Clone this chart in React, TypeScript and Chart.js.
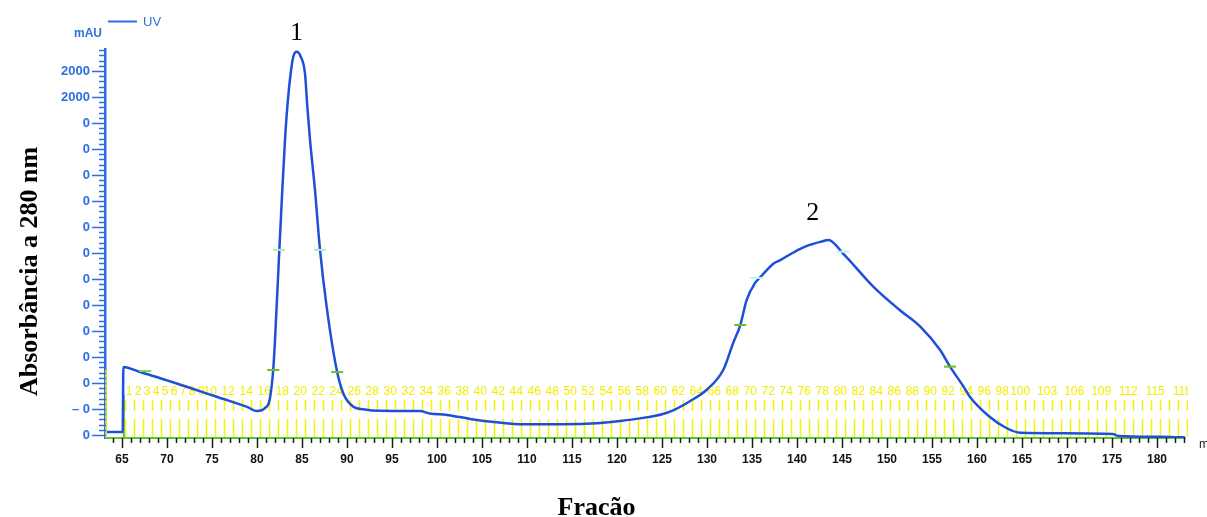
import React, { useEffect, useRef } from "react";
import { Chart, registerables } from "chart.js";

Chart.register(...registerables);

// UV trace (elution volume in ml, absorbance in axis-step units)
const uvVolumeMl = [
  63.11, 65.08, 65.15, 67.0, 68.1, 70.0, 72.6, 75.6, 78.9, 80.0, 80.9, 81.4, 81.8, 82.0,
  82.48, 82.81, 83.11, 83.37, 83.74, 84.03, 84.41, 84.86, 85.33, 85.59, 85.89, 86.44,
  87.0, 87.74, 88.86, 89.59, 90.7, 91.81, 93.67, 98.1, 99.2, 101.08, 103.67, 106.63,
  109.59, 114.03, 117.74, 120.33, 122.56, 125.0, 126.3, 128.1, 130.0, 131.8, 132.9,
  133.7, 134.4, 135.3, 136.0, 137.4, 138.1, 140.3, 141.4, 142.6, 143.5, 145.1, 148.5,
  151.4, 153.7, 155.9, 157.0, 158.5, 159.2, 161.4, 163.3, 164.8, 175.1, 175.7, 180.0, 183.1,
];
const uvAbsorbance = [
  0.12, 0.12, 2.62, 2.42, 2.31, 2.1, 1.81, 1.46, 1.08, 0.92, 1.04, 1.35, 2.5, 3.65,
  7.12, 9.42, 11.35, 12.63, 13.91, 14.55, 14.74, 14.55, 13.91, 12.63, 11.35, 9.42,
  7.12, 4.93, 2.5, 1.6, 1.09, 0.99, 0.93, 0.92, 0.83, 0.77, 0.62, 0.49,
  0.41, 0.41, 0.45, 0.54, 0.64, 0.8, 0.96, 1.3, 1.75, 2.5, 3.53,
  4.23, 5.19, 5.83, 6.1, 6.6, 6.72, 7.15, 7.31, 7.43, 7.5, 6.99, 5.7,
  4.81, 4.17, 3.27, 2.63, 1.86, 1.47, 0.7, 0.26, 0.09, 0.04, -0.04, -0.07, -0.09,
];

// small peak-width marks on the trace
const markVolumeMl = [67.6, 81.8, 88.9, 82.45, 87.0, 133.7, 157.0, 135.5, 145.1];
const markAbsorbance = [2.46, 2.5, 2.42, 7.12, 7.12, 4.23, 2.63, 6.04, 7.05];
const markColors = ["#7fd84a", "#6cc024", "#6cc024", "#a8f0b8", "#a8f0b8", "#6cc024", "#6cc024", "#b8f4ee", "#b8f4ee"];

const xTickValues = [65, 70, 75, 80, 85, 90, 95, 100, 105, 110, 115, 120, 125, 130, 135, 140, 145, 150, 155, 160, 165, 170, 175, 180];
const yTickValues = [0, 1, 2, 3, 4, 5, 6, 7, 8, 9, 10, 11, 12, 13, 14];
const yTickLabels = ["0", "– 0", "0", "0", "0", "0", "0", "0", "0", "0", "0", "0", "0", "2000", "2000"];

// fraction collector numbering
const fractionLabels = [
  1, 2, 3, 4, 5, 6, 7, 8, 9, 10, 12, 14, 16, 18, 20, 22, 24, 26, 28, 30, 32, 34, 36, 38, 40,
  42, 44, 46, 48, 50, 52, 54, 56, 58, 60, 62, 64, 66, 68, 70, 72, 74, 76, 78, 80, 82, 84,
  86, 88, 90, 92, 94, 96, 98, 100, 103, 106, 109, 112, 115, 118,
];
const fractionOffsetMl = 64.8;
const fractionLast = 119;

const peakLabels = ["1", "2"];
const peakLabelMl = [84.4, 141.75];
const peakLabelAbs = [15.19, 8.27];

const X_MIN = 63.11;
const X_MAX = 183.11;
const Y_MIN = -0.115;
const Y_MAX = 14.846;

const BLUE = "#2d6fe0";
const SANS = "'Liberation Sans', Arial, sans-serif";
const SERIF = "'Liberation Serif', 'Times New Roman', serif";

const decorPlugin = {
  id: "decor",
  beforeDatasetsDraw(chart: any) {
    const { ctx, chartArea, scales } = chart;
    const x = scales.x;
    const y = scales.y;
    ctx.save();
    ctx.beginPath();
    ctx.rect(chartArea.left, 0, chartArea.right + 3 - chartArea.left, chart.height);
    ctx.clip();
    // fraction ticks
    ctx.strokeStyle = "#f7f300";
    ctx.lineWidth = 1.5;
    for (let n = 1; n <= fractionLast; n++) {
      const px = Math.round(x.getPixelForValue(n + fractionOffsetMl - 0.5)) + 0.5;
      ctx.beginPath();
      ctx.moveTo(px, y.getPixelForValue(1.35));
      ctx.lineTo(px, y.getPixelForValue(0.92));
      ctx.moveTo(px, y.getPixelForValue(0.62));
      ctx.lineTo(px, y.getPixelForValue(-0.08));
      ctx.stroke();
    }
    // fraction numbers
    ctx.fillStyle = "#f2ee00";
    ctx.font = `12px ${SANS}`;
    ctx.textAlign = "center";
    ctx.textBaseline = "middle";
    fractionLabels.forEach((n) => {
      ctx.fillText(String(n), x.getPixelForValue(n + fractionOffsetMl), y.getPixelForValue(1.65));
    });
    ctx.restore();

    // fraction start marker
    ctx.save();
    ctx.strokeStyle = "#58c040";
    ctx.lineWidth = 2;
    const sx = x.getPixelForValue(65.2);
    ctx.beginPath();
    ctx.moveTo(sx, y.getPixelForValue(1.55));
    ctx.lineTo(sx, chartArea.bottom);
    ctx.stroke();
    ctx.restore();
  },
  afterDraw(chart: any) {
    const { ctx, chartArea, scales } = chart;
    const x = scales.x;
    const y = scales.y;
    ctx.save();
    // lower part of y axis tinted
    ctx.strokeStyle = "#c6e040";
    ctx.lineWidth = 2;
    ctx.beginPath();
    ctx.moveTo(chartArea.left + 1, y.getPixelForValue(2.5));
    ctx.lineTo(chartArea.left + 1, chartArea.bottom);
    ctx.stroke();

    // x minor/major ticks
    ctx.strokeStyle = "#1a1a1a";
    ctx.lineWidth = 1.5;
    for (let v = Math.ceil(x.min); v <= x.max; v++) {
      const px = Math.round(x.getPixelForValue(v)) + 0.5;
      const len = v % 5 === 0 ? 10 : 5;
      ctx.beginPath();
      ctx.moveTo(px, chartArea.bottom);
      ctx.lineTo(px, chartArea.bottom + len);
      ctx.stroke();
    }
    // y minor/major ticks
    ctx.strokeStyle = BLUE;
    for (let k = 0; k * 0.2 <= y.max; k++) {
      const v = k * 0.2;
      const py = Math.round(y.getPixelForValue(v)) + 0.5;
      const len = k % 5 === 0 ? 13 : 6;
      ctx.beginPath();
      ctx.moveTo(chartArea.left - len, py);
      ctx.lineTo(chartArea.left + 1, py);
      ctx.stroke();
    }

    // legend
    ctx.strokeStyle = BLUE;
    ctx.lineWidth = 2;
    ctx.beginPath();
    ctx.moveTo(108, 21.5);
    ctx.lineTo(137, 21.5);
    ctx.stroke();
    ctx.fillStyle = BLUE;
    ctx.textAlign = "left";
    ctx.textBaseline = "alphabetic";
    ctx.font = `13px ${SANS}`;
    ctx.fillText("UV", 143, 26);
    ctx.font = `bold 12px ${SANS}`;
    ctx.fillText("mAU", 74, 37);

    // unit at axis end
    ctx.fillStyle = "#222";
    ctx.font = `12px ${SANS}`;
    ctx.fillText("m", 1199, 448);

    // peak numbers
    ctx.fillStyle = "#000";
    ctx.font = `26px ${SERIF}`;
    ctx.textAlign = "center";
    peakLabels.forEach((t, i) => {
      ctx.fillText(t, x.getPixelForValue(peakLabelMl[i]), y.getPixelForValue(peakLabelAbs[i]));
    });

    // axis titles
    ctx.font = `bold 26px ${SERIF}`;
    ctx.fillText("Fracão", 596.5, 515);
    ctx.translate(37, 271.5);
    ctx.rotate(-Math.PI / 2);
    ctx.fillText("Absorbância a 280 nm", 0, 0);
    ctx.restore();
  },
};

export default function App() {
  const canvasRef = useRef<HTMLCanvasElement | null>(null);

  useEffect(() => {
    const canvas = canvasRef.current;
    if (!canvas) return;
    const chart = new Chart(canvas, {
      type: "line",
      data: {
        datasets: [
          {
            label: "marks",
            data: markVolumeMl.map((v, i) => ({ x: v, y: markAbsorbance[i] })),
            showLine: false,
            pointStyle: "line",
            pointRadius: 6,
            pointBorderWidth: 2,
            pointBorderColor: markColors,
            pointBackgroundColor: markColors,
            order: 0,
          } as any,
          {
            label: "UV",
            data: uvVolumeMl.map((v, i) => ({ x: v, y: uvAbsorbance[i] })),
            borderColor: "#1f4fd8",
            borderWidth: 2.5,
            pointRadius: 0,
            fill: false,
            cubicInterpolationMode: "monotone",
            order: 1,
          } as any,
        ],
      },
      options: {
        animation: false,
        responsive: false,
        events: [],
        layout: { padding: { left: 0, right: 22, top: 49, bottom: 0 } },
        plugins: {
          legend: { display: false },
          tooltip: { enabled: false },
          title: { display: false },
        },
        scales: {
          x: {
            type: "linear",
            min: X_MIN,
            max: X_MAX,
            afterBuildTicks: (s: any) => {
              s.ticks = xTickValues.map((v) => ({ value: v }));
            },
            afterFit: (s: any) => {
              s.height = 79;
            },
            grid: { display: false, drawTicks: false },
            border: { display: true, color: "#5cc534", width: 2 },
            ticks: {
              autoSkip: false,
              maxRotation: 0,
              padding: 14,
              color: "#111",
              font: { family: SANS, size: 12, weight: "bold" },
            },
          },
          y: {
            type: "linear",
            min: Y_MIN,
            max: Y_MAX,
            afterBuildTicks: (s: any) => {
              s.ticks = yTickValues.map((v) => ({ value: v }));
            },
            afterFit: (s: any) => {
              s.width = 105;
            },
            grid: { display: false, drawTicks: false },
            border: { display: true, color: BLUE, width: 2.5 },
            ticks: {
              autoSkip: false,
              padding: 15,
              color: BLUE,
              font: { family: SANS, size: 13, weight: "bold" },
              callback: (value: any) => {
                const i = yTickValues.indexOf(Number(value));
                return i >= 0 ? yTickLabels[i] : "";
              },
            },
          },
        },
      } as any,
      plugins: [decorPlugin],
    });
    return () => chart.destroy();
  }, []);

  return (
    <div style={{ position: "fixed", left: 0, top: 0, width: 1207, height: 517, background: "#fff" }}>
      <canvas ref={canvasRef} width={1207} height={517} style={{ width: 1207, height: 517, display: "block" }} />
    </div>
  );
}
